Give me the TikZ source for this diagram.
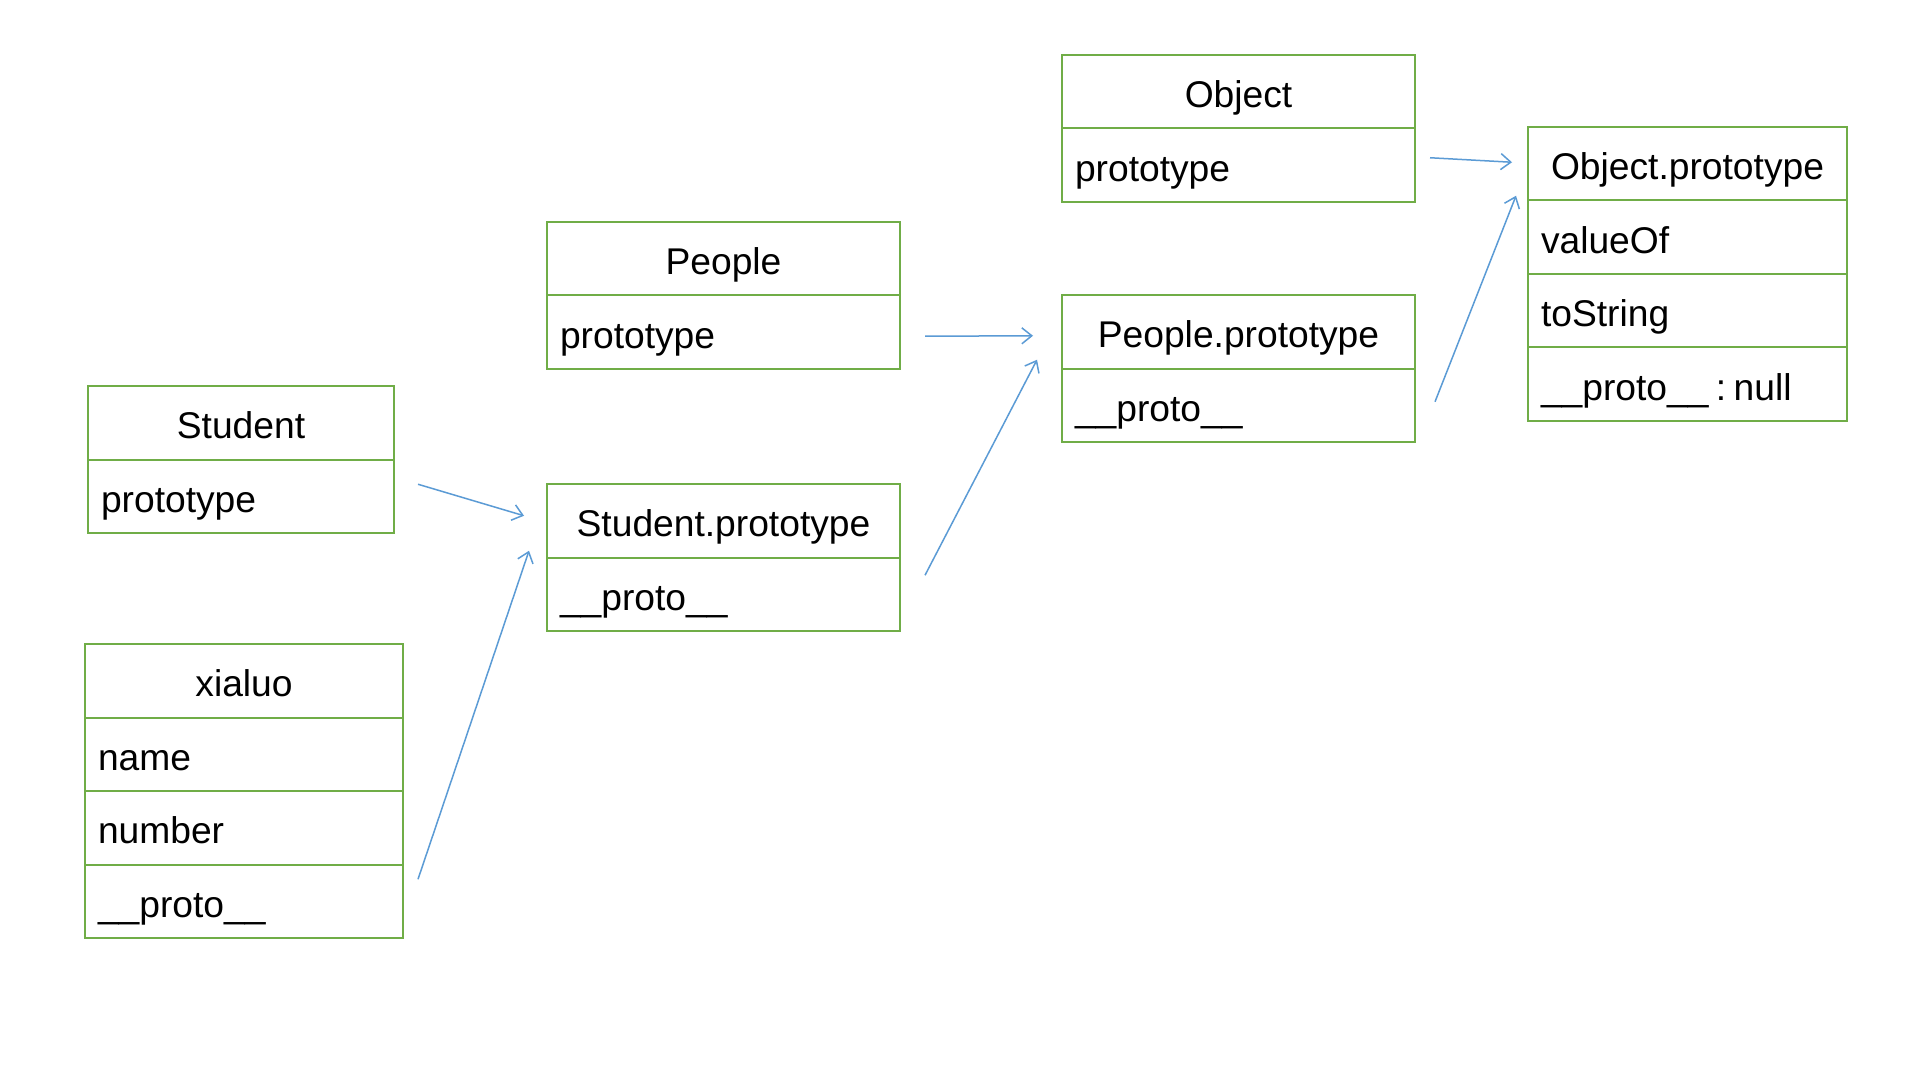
\documentclass[tikz,border=0pt]{standalone}
\usepackage{fontspec}
\setmainfont{Liberation Sans}
\usetikzlibrary{positioning,arrows.meta}

\definecolor{boxgreen}{RGB}{112,173,71}
\definecolor{linkblue}{RGB}{91,155,213}
\newcommand{\boxfont}{\fontsize{18.6}{22}\selectfont}

\tikzset{
	cell/.style={draw=boxgreen, line width=1pt, minimum height=36.75pt, inner xsep=6.5pt, inner ysep=0pt, outer sep=0pt, font=\boxfont, text depth=0pt, anchor=north west},
	head/.style={cell, align=center, text width=#1, text height=16pt},
	field/.style={cell, align=left, text width=#1, text height=16pt},
	link/.style={draw=linkblue, line width=0.75pt, -{Straight Barb[length=5pt,width=8pt]}}
}

\begin{document}
\begin{tikzpicture}[x=0.5pt, y=-0.5pt]
		\useasboundingbox [fill=white] (0, 0) rectangle (1920, 1080);
		\node [head=140pt] (stu) at (88, 386) {Student};
		\node [field=140pt, below=0pt of stu] (stuProto) {prototype};
		\node [head=146pt] (xl) at (85, 644) {xialuo};
		\node [field=146pt, below=0pt of xl] (xlName) {name};
		\node [field=146pt, below=0pt of xlName] (xlNum) {number};
		\node [field=146pt, below=0pt of xlNum] (xlProto) {\_\_proto\_\_};
		\node [head=163.5pt] (ppl) at (547, 222) {People};
		\node [field=163.5pt, below=0pt of ppl] (pplProto) {prototype};
		\node [head=163.5pt] (sp) at (547, 484) {Student.prototype};
		\node [field=163.5pt, below=0pt of sp] (spProto) {\_\_proto\_\_};
		\node [head=163.5pt] (obj) at (1062, 55) {Object};
		\node [field=163.5pt, below=0pt of obj] (objProto) {prototype};
		\node [head=163.5pt] (pp) at (1062, 295) {People.prototype};
		\node [field=163.5pt, below=0pt of pp] (ppProto) {\_\_proto\_\_};
		\node [head=146.5pt] (op) at (1528, 127) {Object.prototype};
		\node [field=146.5pt, below=0pt of op] (opValue) {valueOf};
		\node [field=146.5pt, below=0pt of opValue] (opStr) {toString};
		\node [field=146.5pt, below=0pt of opStr] (opProto) {\_\_proto\_\_\hspace{0.2em}:\hspace{0.2em}null};
		\draw [link] ([xshift=12pt, yshift=6pt] stuProto.east) -- ([xshift=-11.5pt, yshift=2.5pt] sp.west);
		\draw [link] ([xshift=7.5pt, yshift=11pt] xlProto.east) -- ([xshift=-9pt, yshift=-15pt] sp.west);
		\draw [link] ([xshift=12.5pt, yshift=-2pt] pplProto.east) -- ([xshift=-14.5pt, yshift=-2pt] pp.west);
		\draw [link] ([xshift=12.5pt, yshift=9.5pt] spProto.east) -- ([xshift=-12.5pt, yshift=-14pt] pp.west);
		\draw [link] ([xshift=7.5pt, yshift=3.75pt] objProto.east) -- ([xshift=-8pt, yshift=0.75pt] op.west);
		\draw [link] ([xshift=10pt, yshift=1.75pt] ppProto.east) -- ([xshift=-6pt, yshift=-16pt] op.west);
	\end{tikzpicture}
\end{document}
